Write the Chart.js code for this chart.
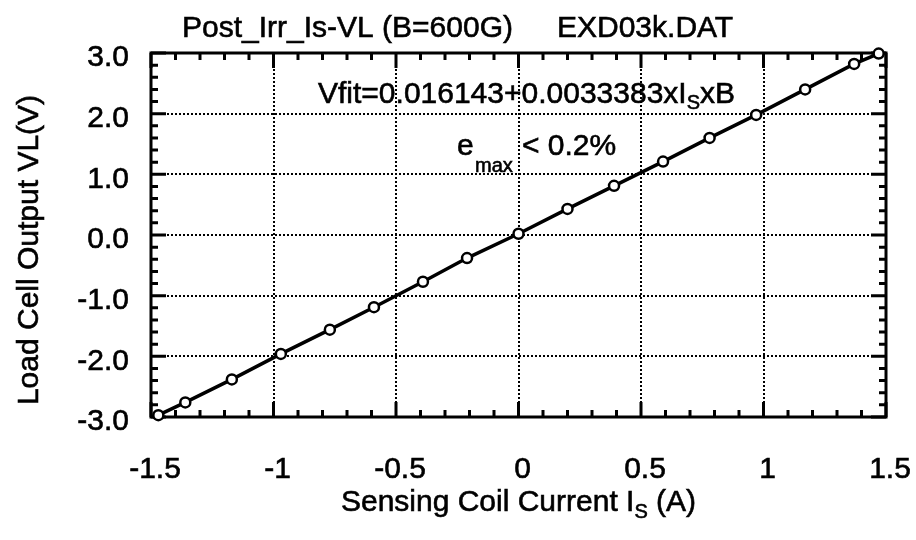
<!DOCTYPE html>
<html>
<head>
<meta charset="utf-8">
<title>Post_Irr_Is-VL</title>
<script src="https://cdn.jsdelivr.net/npm/chart.js@4/dist/chart.umd.min.js"></script>
<style>
    body { margin: 0; background: #fff; }
    canvas { display: block; }
</style>
</head>
<body>
<canvas id="Chart" width="916" height="540"></canvas>
<script>
// Sensing coil current Is (A) and load cell output VL (V), B = 600 G
const Current = [-1.47, -1.36, -1.17, -0.97, -0.77, -0.59, -0.39, -0.21, 0.0, 0.2, 0.39, 0.59, 0.78, 0.97, 1.17, 1.37, 1.47];
const Output = [-2.97, -2.76, -2.38, -1.96, -1.56, -1.19, -0.77, -0.38, 0.02, 0.43, 0.81, 1.21, 1.6, 1.98, 2.4, 2.82, 2.99];
const XTicks = [-1.5, -1, -0.5, 0, 0.5, 1, 1.5];
const YTicks = [-3, -2, -1, 0, 1, 2, 3];

const FONT = '"Liberation Sans", Arial, sans-serif';
const ctx = document.getElementById('Chart');

const points = Current.map(function(x, i) {
    return { x: x, y: Output[i] };
});

// hide the dotted grid on the frame itself
function gridColor(edges) {
    return function(c) {
        return edges.indexOf(c.tick.value) >= 0 ? 'rgba(0,0,0,0)' : '#000';
    };
}

// filled text with a thin outline so it reads a little heavier
function text(g, s, x, y) {
    g.fillText(s, x, y);
    g.strokeText(s, x, y);
}

// frame plus inward ticks on all four sides
const frame = {
    id: 'frame',
    beforeDatasetsDraw(chart) {
        const g = chart.ctx;
        const a = chart.chartArea;
        const sx = chart.scales.x;
        const sy = chart.scales.y;
        g.save();
        g.strokeStyle = '#000';
        g.lineWidth = 3;
        g.setLineDash([]);
        g.beginPath();
        for (let i = -15; i <= 15; i++) {
            const px = sx.getPixelForValue(i / 10);
            const len = i % 5 === 0 ? 15 : 7;
            g.moveTo(px, a.bottom); g.lineTo(px, a.bottom - len);
            g.moveTo(px, a.top); g.lineTo(px, a.top + len);
        }
        for (let j = -15; j <= 15; j++) {
            const py = sy.getPixelForValue(j / 5);
            const len = j % 5 === 0 ? 15 : 7;
            g.moveTo(a.left, py); g.lineTo(a.left + len, py);
            g.moveTo(a.right, py); g.lineTo(a.right - len, py);
        }
        g.stroke();
        g.strokeRect(a.left, a.top, a.right - a.left, a.bottom - a.top);
        g.restore();
    },
    afterDraw(chart) {
        const g = chart.ctx;
        const big = '30px ' + FONT;
        const small = '20px ' + FONT;
        g.save();
        g.fillStyle = '#000';
        g.strokeStyle = '#000';
        g.lineWidth = 0.6;
        g.textBaseline = 'alphabetic';
        g.textAlign = 'left';

        // title line
        g.font = big;
        text(g, 'Post_Irr_Is-VL (B=600G)', 182, 37);
        text(g, 'EXD03k.DAT', 557, 37);

        // fit formula
        let x = 318;
        text(g, 'Vfit=0.016143+0.0033383xI', x, 103);
        x += g.measureText('Vfit=0.016143+0.0033383xI').width;
        g.font = small;
        text(g, 'S', x, 109);
        x += g.measureText('S').width;
        g.font = big;
        text(g, 'xB', x, 103);

        // max error
        text(g, 'e', 457, 155);
        g.font = small;
        text(g, 'max', 475, 172);
        g.font = big;
        text(g, '< 0.2%', 522, 155);

        // x axis title
        const t1 = 'Sensing Coil Current I';
        const t2 = ' (A)';
        g.font = big;
        const w1 = g.measureText(t1).width;
        const w3 = g.measureText(t2).width;
        g.font = small;
        const w2 = g.measureText('S').width;
        let tx = (chart.chartArea.left + chart.chartArea.right) / 2 - (w1 + w2 + w3) / 2;
        g.font = big;
        text(g, t1, tx, 511);
        g.font = small;
        text(g, 'S', tx + w1, 518);
        g.font = big;
        text(g, t2, tx + w1 + w2, 511);

        // y axis title
        g.translate(38, 250);
        g.rotate(-Math.PI / 2);
        g.textAlign = 'center';
        text(g, 'Load Cell Output VL(V)', 0, 0);
        g.restore();
    }
};

new Chart(ctx, {
    type: 'scatter',
    data: {
        datasets: [{
            data: points,
            showLine: true,
            borderColor: '#000',
            borderWidth: 3.5,
            pointRadius: 5,
            pointBorderWidth: 2.5,
            pointBackgroundColor: '#fff',
            pointBorderColor: '#000',
            clip: false
        }]
    },
    options: {
        responsive: false,
        animation: false,
        devicePixelRatio: 1,
        layout: { padding: { left: 0, right: 30, top: 53, bottom: 0 } },
        plugins: {
            legend: { display: false },
            tooltip: { enabled: false }
        },
        scales: {
            x: {
                type: 'linear',
                min: -1.5,
                max: 1.5,
                afterFit: function(s) {
                    s.height = 123;
                    s.paddingLeft = 0;
                    s.paddingRight = 0;
                },
                afterBuildTicks: function(s) { s.ticks = XTicks.map(function(v) { return { value: v }; }); },
                grid: { color: gridColor([-1.5, 1.5]), lineWidth: 2, drawTicks: false },
                border: { display: false, dash: [2, 2] },
                ticks: {
                    autoSkip: false,
                    maxRotation: 0,
                    padding: 35,
                    labelOffset: 4,
                    color: '#000',
                    textStrokeColor: '#000',
                    textStrokeWidth: 0.6,
                    font: { family: FONT, size: 30 },
                    callback: function(v) { return String(Number(v.toFixed(1))); }
                }
            },
            y: {
                type: 'linear',
                min: -3,
                max: 3,
                afterFit: function(s) {
                    s.width = 151;
                    s.paddingTop = 0;
                    s.paddingBottom = 0;
                },
                afterBuildTicks: function(s) { s.ticks = YTicks.map(function(v) { return { value: v }; }); },
                grid: { color: gridColor([-3, 3]), lineWidth: 2, drawTicks: false },
                border: { display: false, dash: [2, 2] },
                ticks: {
                    padding: 22,
                    labelOffset: 5,
                    color: '#000',
                    textStrokeColor: '#000',
                    textStrokeWidth: 0.6,
                    font: { family: FONT, size: 30 },
                    callback: function(v) { return v.toFixed(1); }
                }
            }
        }
    },
    plugins: [frame]
});
</script>
</body>
</html>
